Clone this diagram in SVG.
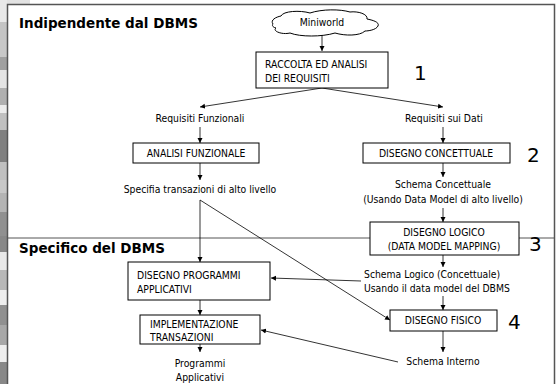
<svg xmlns="http://www.w3.org/2000/svg" width="556" height="384" viewBox="0 0 556 384">
<defs>
<marker id="ah" markerWidth="6" markerHeight="6" refX="5" refY="3" orient="auto" markerUnits="userSpaceOnUse">
<path d="M0,0.5 L5,3 L0,5.5 Z" fill="#000"/>
</marker>
<style>
text{font-family:"DejaVu Sans Condensed","DejaVu Sans",sans-serif;font-size:10.3px;fill:#000}
.t{font-family:"DejaVu Sans",sans-serif;font-weight:bold;font-size:13.5px}
.n{font-family:"DejaVu Sans",sans-serif;font-size:20px}
.c{text-anchor:middle}
.box{fill:#fff;stroke:#000;stroke-width:1}
.ln{fill:none;stroke:#000;stroke-width:0.8}
.ar{fill:none;stroke:#000;stroke-width:0.8;marker-end:url(#ah)}
</style>
</defs>
<rect x="0" y="0" width="556" height="384" fill="#fff"/>
<g id="strip">
<rect x="0" y="0" width="30" height="5" fill="#e2e2e2"/>
<rect x="0" y="0" width="7" height="22" fill="#e8e8e8"/>
<rect x="0" y="22" width="7" height="18" fill="#c4c4c4"/>
<rect x="0" y="40" width="7" height="17" fill="#c8c8c8"/>
<rect x="0" y="57" width="7" height="13" fill="#a0a0a0"/>
<rect x="0" y="70" width="7" height="18" fill="#e4e4e4"/>
<rect x="0" y="88" width="7" height="17" fill="#b0b0b0"/>
<rect x="0" y="105" width="7" height="8" fill="#ececec"/>
<rect x="0" y="113" width="7" height="17" fill="#c0c0c0"/>
<rect x="0" y="130" width="7" height="32" fill="#808080"/>
<rect x="0" y="162" width="7" height="18" fill="#c0c0c0"/>
<rect x="0" y="180" width="7" height="13" fill="#c8c8c8"/>
<rect x="0" y="193" width="7" height="19" fill="#b4b4b4"/>
<rect x="0" y="212" width="7" height="24" fill="#909090"/>
<rect x="0" y="236" width="7" height="16" fill="#888888"/>
<rect x="0" y="252" width="7" height="18" fill="#e8e8e8"/>
<rect x="0" y="270" width="7" height="20" fill="#b8b8b8"/>
<rect x="0" y="290" width="7" height="15" fill="#eeeeee"/>
<rect x="0" y="305" width="7" height="20" fill="#909090"/>
<rect x="0" y="325" width="7" height="20" fill="#a8a8a8"/>
<rect x="0" y="345" width="7" height="17" fill="#eeeeee"/>
<rect x="0" y="362" width="7" height="22" fill="#888888"/>
</g>
<g id="frame">
<path d="M7.5,384 V4.5 H554.5 V384" fill="none" stroke="#555" stroke-width="1.5"/>
<line x1="7" y1="238" x2="554" y2="238" stroke="#555" stroke-width="1"/>
</g>
<g id="labels">
<text class="t" x="19" y="28">Indipendente dal DBMS</text>
<text class="t" x="19" y="253">Specifico del DBMS</text>
<text class="n" x="414" y="80">1</text>
<text class="n" x="527" y="162">2</text>
<text class="n" x="529" y="251">3</text>
<text class="n" x="508" y="329">4</text>
</g>
<g id="connectors">
<line class="ar" x1="322" y1="34" x2="322" y2="51"/>
<line class="ar" x1="322" y1="88" x2="200" y2="107"/>
<line class="ar" x1="322" y1="88" x2="443" y2="107"/>
<line class="ar" x1="200" y1="127" x2="200" y2="143"/>
<line class="ar" x1="443" y1="127" x2="443" y2="143"/>
<line class="ar" x1="200" y1="163" x2="200" y2="180"/>
<line class="ar" x1="443" y1="163" x2="443" y2="177"/>
<line class="ar" x1="443" y1="208" x2="443" y2="222"/>
<line class="ar" x1="443" y1="255" x2="443" y2="267"/>
<line class="ar" x1="443" y1="296" x2="443" y2="310"/>
<line class="ar" x1="443" y1="331" x2="443" y2="352"/>
<line class="ar" x1="200" y1="200" x2="200" y2="262"/>
<line class="ar" x1="200" y1="200" x2="390" y2="320"/>
<line class="ar" x1="200" y1="300" x2="200" y2="315"/>
<line class="ar" x1="200" y1="344" x2="200" y2="352"/>
<line class="ar" x1="361" y1="281" x2="271" y2="278"/>
<line class="ar" x1="398" y1="362" x2="261" y2="330"/>
</g>
<g id="miniworld">
<path d="M273,24 C270,20 276,17 281,16 C283,11 300,10 310,13 C322,9 340,9 350,12 C358,11 368,14 367,19 C372,20 380,22 378,26 C376,30 368,31 365,31 C360,36 345,36 335,33 C322,37 300,37 290,33 C282,35 272,31 276,28 C272,27 272,25 273,24 Z" fill="#fff" stroke="#000" stroke-width="1"/>
<text class="c" x="322" y="26">Miniworld</text>
</g>
<g id="raccolta">
<rect class="box" x="256" y="52" width="132" height="36"/>
<text x="265" y="68">RACCOLTA ED ANALISI</text>
<text x="265" y="82">DEI REQUISITI</text>
</g>
<g id="req-funz"><text class="c" x="200" y="122">Requisiti Funzionali</text></g>
<g id="req-dati"><text class="c" x="444" y="122">Requisiti sui Dati</text></g>
<g id="analisi">
<rect class="box" x="133" y="143" width="126" height="20"/>
<text class="c" x="196" y="157">ANALISI FUNZIONALE</text>
</g>
<g id="concettuale">
<rect class="box" x="363" y="143" width="147" height="20"/>
<text class="c" x="436" y="157">DISEGNO CONCETTUALE</text>
</g>
<g id="specifica"><text class="c" x="200" y="193">Specifia transazioni di alto livello</text></g>
<g id="schema-conc">
<text class="c" x="443" y="188">Schema Concettuale</text>
<text class="c" x="443" y="203">(Usando Data Model di alto livello)</text>
</g>
<g id="logico">
<rect class="box" x="370" y="222" width="149" height="33"/>
<text class="c" x="444" y="236">DISEGNO LOGICO</text>
<text class="c" x="444" y="250">(DATA MODEL MAPPING)</text>
</g>
<g id="schema-logico">
<text x="364" y="278">Schema Logico (Concettuale)</text>
<text x="364" y="292">Usando il data model del DBMS</text>
</g>
<g id="fisico">
<rect class="box" x="390" y="310" width="107" height="21"/>
<text class="c" x="443" y="324">DISEGNO FISICO</text>
</g>
<g id="schema-interno"><text class="c" x="443" y="365">Schema Interno</text></g>
<g id="programmi">
<rect class="box" x="128" y="262" width="142" height="38"/>
<text x="137" y="279">DISEGNO PROGRAMMI</text>
<text x="137" y="293">APPLICATIVI</text>
</g>
<g id="implementazione">
<rect class="box" x="140" y="315" width="120" height="29"/>
<text x="150" y="328">IMPLEMENTAZIONE</text>
<text x="150" y="341">TRANSAZIONI</text>
</g>
<g id="prog-app">
<text class="c" x="200" y="367">Programmi</text>
<text class="c" x="200" y="381">Applicativi</text>
</g>
</svg>
